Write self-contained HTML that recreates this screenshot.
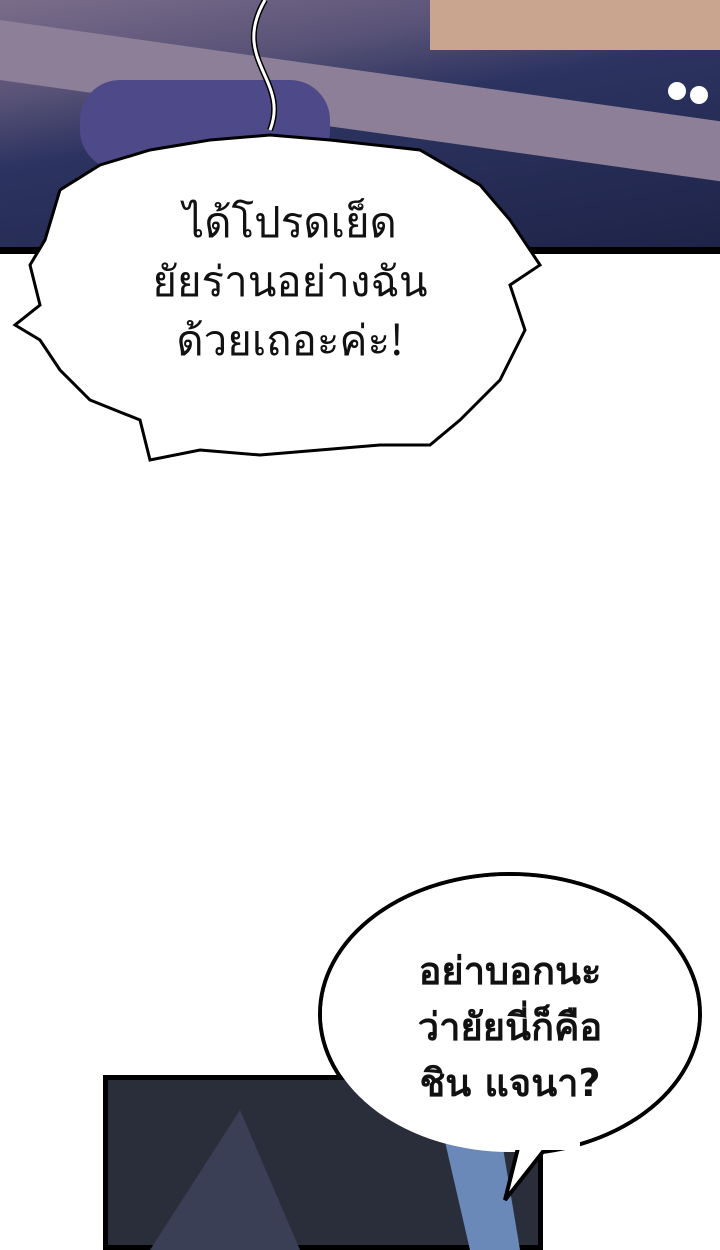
<!DOCTYPE html>
<html><head><meta charset="utf-8"><style>
body{margin:0;width:720px;height:1250px;background:#fff;position:relative;overflow:hidden;font-family:"Liberation Sans","Noto Sans CJK SC",sans-serif}
.a{position:absolute}
</style></head><body>
<div class="a" style="left:0;top:0;width:720px;height:250px;background:linear-gradient(170deg,#7a6d8a 0%,#5b5478 25%,#2c3360 45%,#1e2448 100%)"></div>
<div class="a" style="left:0;top:20px;width:720px;height:60px;background:#8c7f97;transform:skewY(8deg);transform-origin:0 0"></div>
<div class="a" style="left:80px;top:80px;width:250px;height:90px;background:#4e4a8a;border-radius:40px"></div>
<div class="a" style="left:430px;top:0;width:290px;height:50px;background:#c9a58f"></div>
<div class="a" style="left:0;top:247px;width:720px;height:7px;background:#000"></div>
<div class="a" style="left:668px;top:82px;width:18px;height:18px;border-radius:50%;background:#fff"></div>
<div class="a" style="left:690px;top:86px;width:18px;height:18px;border-radius:50%;background:#fff"></div>
<svg class="a" style="left:0;top:0" width="720" height="1250">
<path d="M265 0 C230 60 290 80 270 130" fill="none" stroke="#000" stroke-width="6"/>
<path d="M265 0 C230 60 290 80 270 130" fill="none" stroke="#fff" stroke-width="3"/>
<polygon fill="#fff" stroke="#000" stroke-width="3" points="270,135 330,140 420,150 480,185 510,220 540,265 510,285 525,330 500,380 460,420 430,445 380,445 320,450 260,455 200,450 150,460 140,420 90,400 60,370 40,340 15,325 40,305 30,265 45,240 60,190 100,165 150,150 210,140"/>
<ellipse cx="510" cy="1014" rx="190" ry="140" fill="#fff" stroke="#000" stroke-width="4"/>
</svg>
<div class="a" style="left:103px;top:1075px;width:440px;height:175px;background:#2a2d3a;border:5px solid #000;box-sizing:border-box"></div>
<svg class="a" style="left:0;top:0" width="720" height="1250">
<path d="M150 1250 L240 1110 L300 1250 Z" fill="#3b3f55"/>
<path d="M440 1120 L470 1250 L520 1250 L500 1130 Z" fill="#6b89b8"/>
<ellipse cx="510" cy="1014" rx="188" ry="138" fill="#fff"/>
<path d="M520 1140 L505 1200 L560 1130 Z" fill="#fff" stroke="#000" stroke-width="4"/>
<rect x="480" y="1120" width="100" height="30" fill="#fff"/>
</svg>
<div class="a" style="left:90px;top:190px;width:400px;text-align:center;font-size:42px;line-height:59px;font-family:'Noto Sans CJK SC','DejaVu Sans',sans-serif;color:#111">ได้โปรดเย็ด<br>ยัยร่านอย่างฉัน<br>ด้วยเถอะค่ะ!</div>
<div class="a" style="left:360px;top:943px;width:300px;text-align:center;font-size:38px;line-height:56px;font-weight:bold;font-family:'DejaVu Sans',sans-serif;color:#111">อย่าบอกนะ<br>ว่ายัยนี่ก็คือ<br>ชิน แจนา?</div>
</body></html>
